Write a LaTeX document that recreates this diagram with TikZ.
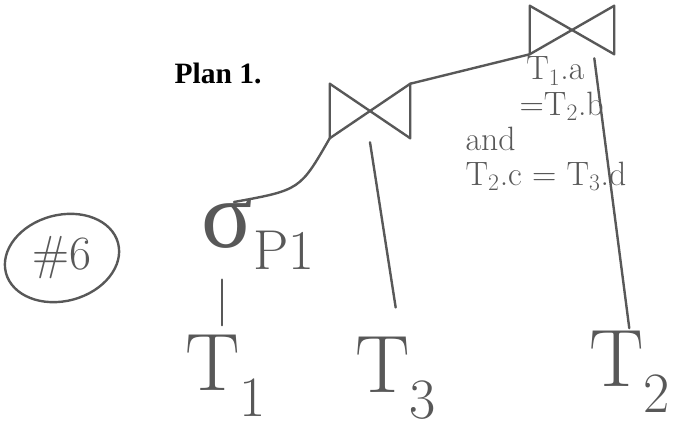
\documentclass[tikz,border=0pt]{standalone}
\usepackage{fontspec}
\newfontfamily\titlefont{Liberation Serif}
\usepackage{xcolor}
\definecolor{InkGray}{RGB}{88,88,88}
\usepackage{tikz}
\usetikzlibrary{shapes, shapes.geometric, positioning, calc}
\tikzset{
  % Hand-drawn stroke
  ink/.style={draw=InkGray, line width=1.7pt, line cap=round, line join=round},
  % Join operator box (bowtie drawn on its corners)
  joinop/.style={rectangle, inner sep=0pt},
  % Relation leaf
  rel/.style={text=InkGray, font=\fontsize{58}{58}\selectfont, inner sep=1pt},
  % Selection operator
  selop/.style={text=InkGray, inner sep=1pt},
  % Join condition text
  cond/.style={text=InkGray, font=\fontsize{24}{25}\selectfont, align=left, inner sep=0pt},
  % Circled problem number
  badge/.style={text=InkGray, font=\fontsize{34}{34}\selectfont, inner sep=2pt},
}

\begin{document}
\begin{tikzpicture}[x=0.025cm, y=-0.025cm]
  \useasboundingbox (0,0) rectangle (678,433);

  %% Title
  \node[font=\titlefont\bfseries\fontsize{21}{24}\selectfont] (title) at (218,73) {Plan 1.};

  %% Problem number
  \node[badge] (num) at (62,258) {\#6};
  \draw[ink, rotate around={15:(num.center)}] (num.center) ellipse (58 and 43);

  %% Operators
  \node[joinop, minimum width=2.0cm, minimum height=1.35cm] (J1) at (370,111) {};
  \draw[ink] (J1.north west) -- (J1.south west) -- (J1.north east) -- (J1.south east) -- cycle;
  \node[joinop, minimum width=2.1cm, minimum height=1.2cm] (J2) at (572,30) {};
  \draw[ink] (J2.north west) -- (J2.south west) -- (J2.north east) -- (J2.south east) -- cycle;
  \node[selop, anchor=base west] (S) at (200,247)
    {{\titlefont\fontsize{68}{68}\selectfont σ}\raisebox{-16pt}{\fontsize{40}{40}\selectfont P1}};

  %% Join condition
  \node[cond] (C) at (546,124)
    {\hspace*{1.8em}T\textsubscript{1}.a\\
     \hspace*{1.6em}=T\textsubscript{2}.b\\
     and\\
     T\textsubscript{2}.c = T\textsubscript{3}.d};

  %% Relations
  \node[rel] (T1) at (226,376) {T\textsubscript{1}};
  \node[rel] (T3) at (396,378) {T\textsubscript{3}};
  \node[rel] (T2) at (630,372) {T\textsubscript{2}};

  %% Edges
  \draw[ink, shorten >=6pt, shorten <=6pt] (S.south -| T1.north) ++(-4,0) coordinate (s1) -- (T1.north -| s1);
  \draw[ink] ($(S.base west)+(34,-45)$) .. controls (300,190) .. (J1.south west);
  \draw[ink, shorten >=20pt] ($(J1.south)+(0,4)$) -- ($(T3.north)+(4,0)$);
  \draw[ink] (J1.north east) -- (J2.south west);
  \draw[ink, shorten >=4pt] ($(J2.south east)+(-20,4)$) -- ($(T2.north)+(0,4)$);
\end{tikzpicture}
\end{document}
